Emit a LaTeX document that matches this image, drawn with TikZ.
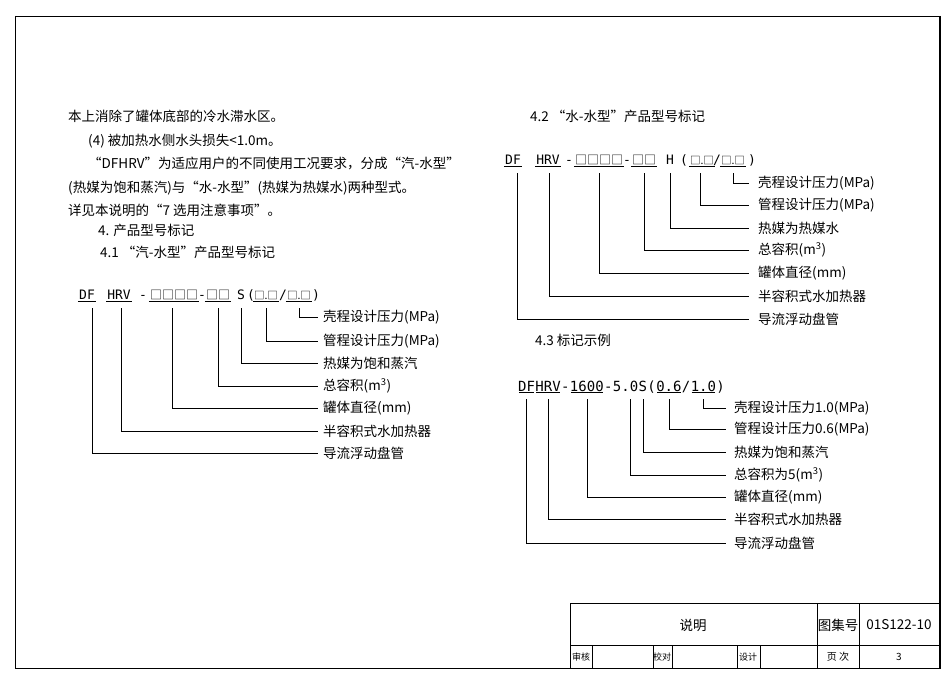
\documentclass[tikz,border=0pt]{standalone}
\usepackage{fontspec}
\setmainfont{Noto Sans CJK SC}
\newfontfamily\hdr{DejaVu Sans Mono}
\tikzset{
  txt/.style={anchor=base west, inner sep=0pt},
  seg/.style={anchor=base, inner sep=1pt, font=\hdr\fontsize{13}{15}\selectfont},
  box/.style={anchor=base, inner sep=1pt, font=\fontsize{12}{14}\selectfont},
  pbox/.style={anchor=base, inner sep=1pt, font=\fontsize{10.5}{12}\selectfont},
  cseg/.style={anchor=base west, inner xsep=0pt, inner ysep=1pt, font=\hdr\fontsize{14}{16}\selectfont},
  lbl/.style={anchor=west, inner sep=1pt},
  cell/.style={inner sep=0pt},
  lead/.style={line width=0.5pt}
}
\begin{document}
\begin{tikzpicture}[x=1pt,y=-1pt,font=\fontsize{13.5}{16}\selectfont]
  \useasboundingbox (0,0) rectangle (950,684);
  % Rahmen
  \draw[line width=0.8pt] (15,16) -- (940,16);
  \draw[line width=0.8pt] (15,16) -- (15,668) -- (940,668);
  \draw[line width=2pt] (940,16) -- (940,668);

  % Fliesstext links
  \node[txt] (t1) at (68,122) {本上消除了罐体底部的冷水滞水区。};
  \node[txt] (t2) at (88,146) {(4) 被加热水侧水头损失<1.0m。};
  \node[txt] (t3) at (88,169) {“DFHRV”为适应用户的不同使用工况要求，分成“汽-水型”};
  \node[txt] (t4) at (68,193) {(热媒为饱和蒸汽)与“水-水型”(热媒为热媒水)两种型式。};
  \node[txt] (t5) at (68,216) {详见本说明的“7 选用注意事项”。};
  \node[txt] (t6) at (98,236) {4. 产品型号标记};
  \node[txt] (t7) at (100,258) {4.1 “汽-水型”产品型号标记};
  \node[txt] (t8) at (530,122) {4.2 “水-水型”产品型号标记};
  \node[txt] (t9) at (535,345) {4.3 标记示例};

  % 4.1 Kopfzeile
  \node[seg] (aDF) at (87,300) {DF};
  \node[seg] (aHRV) at (119,300) {HRV};
  \node[seg] at (143,300) {-};
  \node[box] (aBoxA) at (174,300) {□□□□};
  \node[seg] at (202,300) {-};
  \node[box] (aBoxB) at (218,300) {□□};
  \node[seg] (aS) at (241,300) {S};
  \node[seg] at (251,300) {(};
  \node[pbox] (aPa) at (266,300) {□.□};
  \node[seg] at (283,300) {/};
  \node[pbox] (aPb) at (299,300) {□.□};
  \node[seg] at (316,300) {)};
  \foreach \s in {aDF,aHRV,aBoxA,aBoxB,aPa,aPb}
    \draw[lead] (\s.south west) -- (\s.south east);
  \foreach \i/\y/\t in {1/317/壳程设计压力(MPa),2/341/管程设计压力(MPa),3/363/热媒为饱和蒸汽,
      4/386/总容积(m\textsuperscript{3}),5/408/罐体直径(mm),6/431/半容积式水加热器,7/453/导流浮动盘管}
    \node[lbl] (la\i) at (322,\y) {\t};
  \foreach \s/\dx/\l in {aPb/0/la1,aPa/0/la2,aS/0/la3,aBoxB/0/la4,aBoxA/-2/la5,aHRV/2/la6,aDF/5/la7}
    \draw[lead] ([yshift=-7pt,xshift=\dx pt]\s.south) |- ([xshift=-4pt]\l.west);

  % 4.2 Kopfzeile
  \node[seg] (bDF) at (513,165) {DF};
  \node[seg] (bHRV) at (548,165) {HRV};
  \node[seg] at (569,165) {-};
  \node[box] (bBoxA) at (599,165) {□□□□};
  \node[seg] at (627,165) {-};
  \node[box] (bBoxB) at (644,165) {□□};
  \node[seg] (bH) at (670,165) {H};
  \node[seg] at (684,165) {(};
  \node[pbox] (bPa) at (702,165) {□.□};
  \node[seg] at (717,165) {/};
  \node[pbox] (bPb) at (733,165) {□.□};
  \node[seg] at (752,165) {)};
  \foreach \s in {bDF,bHRV,bBoxA,bBoxB,bPa,bPb}
    \draw[lead] (\s.south west) -- (\s.south east);
  \foreach \i/\y/\t in {1/183/壳程设计压力(MPa),2/205/管程设计压力(MPa),3/228/热媒为热媒水,
      4/250/总容积(m\textsuperscript{3}),5/273/罐体直径(mm),6/296/半容积式水加热器,7/319/导流浮动盘管}
    \node[lbl] (lb\i) at (757,\y) {\t};
  \foreach \s/\dx/\l in {bPb/0/lb1,bPa/-2/lb2,bH/0/lb3,bBoxB/0/lb4,bBoxA/0/lb5,bHRV/1/lb6,bDF/4/lb7}
    \draw[lead] ([yshift=-7pt,xshift=\dx pt]\s.south) |- ([xshift=-8pt]\l.west);

  % 4.3 Beispiel
  \node[cseg] (cDF) at (518,391) {DF};
  \node[cseg] (cHRV) at (cDF.base east) {HRV};
  \node[cseg] (cM1) at (cHRV.base east) {-};
  \node[cseg] (cDia) at (cM1.base east) {1600};
  \node[cseg] (cM2) at (cDia.base east) {-};
  \node[cseg] (cVol) at (cM2.base east) {5.0};
  \node[cseg] (cS) at (cVol.base east) {S};
  \node[cseg] (cO) at (cS.base east) {(};
  \node[cseg] (cPa) at (cO.base east) {0.6};
  \node[cseg] (cSl) at (cPa.base east) {/};
  \node[cseg] (cPb) at (cSl.base east) {1.0};
  \node[cseg] (cC) at (cPb.base east) {)};
  \foreach \s in {cDF,cHRV,cDia,cPa,cPb}
    \draw[lead] ([xshift=1pt]\s.south west) -- ([xshift=-1pt]\s.south east);
  \foreach \i/\y/\t in {1/408/壳程设计压力1.0(MPa),2/429/管程设计压力0.6(MPa),3/452/热媒为饱和蒸汽,
      4/475/总容积为5(m\textsuperscript{3}),5/497/罐体直径(mm),6/519/半容积式水加热器,7/543/导流浮动盘管}
    \node[lbl] (lc\i) at (733,\y) {\t};
  \foreach \s/\dx/\l in {cPb/0/lc1,cPa/0/lc2,cS/0/lc3,cVol/5/lc4,cDia/0/lc5,cHRV/0/lc6,cDF/0/lc7}
    \draw[lead] ([yshift=-7pt,xshift=\dx pt]\s.south) |- ([xshift=-7pt]\l.west);

  % Schriftfeld
  \draw[line width=0.8pt] (570,603) rectangle (940,668);
  \draw (570,645) -- (940,645);
  \draw (817,603) -- (817,668);
  \draw (859,603) -- (859,668);
  \foreach \x in {592,653,672,737,760}
    \draw (\x,645) -- (\x,668);
  \node[cell] (title) at (693,625) {说明};
  \node[cell] (setno) at (838,625) {图集号};
  \node[cell] (setid) at (899,625) {01S122-10};
  \node[cell,font=\fontsize{9}{10}\selectfont] (chk) at (581,657) {审核};
  \node[cell,font=\fontsize{9}{10}\selectfont] (rev) at (662,657) {校对};
  \node[cell,font=\fontsize{9}{10}\selectfont] (dsg) at (748,657) {设计};
  \node[cell,font=\fontsize{10}{11}\selectfont] (pg) at (838,657) {页\ 次};
  \node[cell,font=\fontsize{10}{11}\selectfont] (pgno) at (899,657) {3};
\end{tikzpicture}
\end{document}
